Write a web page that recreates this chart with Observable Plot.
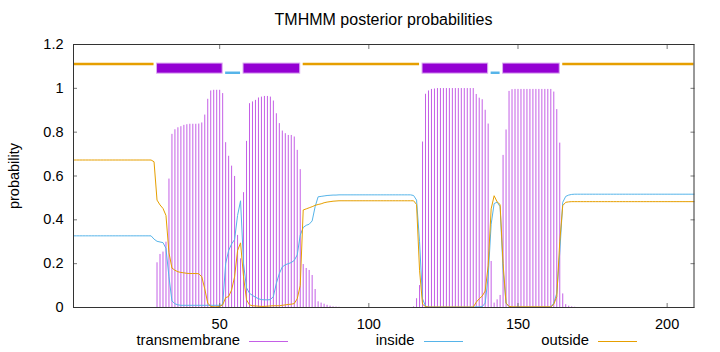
<!DOCTYPE html>
<html>
<head>
<meta charset="utf-8">
<script src="https://cdn.jsdelivr.net/npm/d3@7"></script>
<script src="https://cdn.jsdelivr.net/npm/@observablehq/plot@0.6"></script>
<style>
  body { margin: 0; background: #fff; }
  #wrap { position: relative; width: 720px; height: 352px; overflow: hidden;
          font-family: "Liberation Sans", Arial, sans-serif; color: #000; }
  #title { position: absolute; top: 12px; left: 383.5px; transform: translateX(-50%);
           white-space: nowrap; font-size: 16px; line-height: 1; }
  #ylabel { position: absolute; left: 14px; top: 175.5px; transform: translate(-50%, -50%) rotate(-90deg);
            white-space: nowrap; font-size: 14.5px; line-height: 1; }
  .leg-text { position: absolute; top: 333px; font-size: 14.8px; line-height: 1; white-space: nowrap; text-align: right; }
  .leg-line { position: absolute; top: 341px; height: 0; border-top-width: 1px; border-top-style: solid; }
</style>
</head>
<body>
<div id="wrap">
  <div id="chart"></div>
  <div id="title"></div>
  <div id="ylabel"></div>
</div>
<script>
// ---- data ----
const titleText = "TMHMM posterior probabilities";
const yLabelText = "probability";
const seriesNames = ["transmembrane", "inside", "outside"];
const seriesColors = ["#c45fe6", "#56b4e9", "#e69f00"];

const xTicks = [50, 100, 150, 200];
const yTicks = [0, 0.2, 0.4, 0.6, 0.8, 1, 1.2];
const yTickLabels = ["0", "0.2", "0.4", "0.6", "0.8", "1", "1.2"];

const seqLength = 209;

// posterior probability per residue (1..209)
const tmProb = [
  0,0,0,0,0,0,0,0,0,0, 0,0,0,0,0,0,0,0,0,0, 0,0,0,0,0,0,0,0,
  0.204,0.242,0.253,0.298,0.586,0.790,0.811,0.820,0.825,0.831,0.834,0.836,0.836,0.836,0.837,0.842,
  0.878,0.950,0.988,0.991,0.991,0.991,0.976,0.752,0.690,0.645,0.598,0.329,0.222,0.524,0.758,0.930,
  0.938,0.945,0.956,0.960,0.963,0.963,0.960,0.942,0.884,0.839,0.805,0.793,0.785,0.785,0.778,0.717,
  0.629,0.196,0.178,0.169,0.146,0.082,0.026,0.020,0.015,0.010,0.006,0.003,0.002,0.001,
  0,0,0,0,0,0,0,0,0,0, 0,0,0,0,0,0,0,0,0,0, 0,0,0,0,
  0.003,0.040,0.100,0.755,0.973,0.988,0.995,0.997,
  0.999,0.999,0.999,0.999,0.999,0.999,0.999,0.999,0.999,0.999,0.999,0.999,0.999,
  0.972,0.955,0.948,0.900,0.837,0.210,0.020,0.035,0.055,0.694,0.810,0.986,0.994,
  0.995,0.995,0.995,0.995,0.995,0.995,0.995,0.995,0.995,0.995,0.995,0.995,0.995,
  0.983,0.903,0.750,0.062,0.013,0.006,0.003,0.001,
  0,0,0,0,0,0,0,0,0,0, 0,0,0,0,0,0,0,0,0,0, 0,0,0,0,0,0,0,0,0,0, 0,0,0,0,0,0,0,0,0,0
];

const insideProb = [
  0.327,0.327,0.327,0.327,0.327,0.327,0.327,0.327,0.327,0.327,
  0.327,0.327,0.327,0.327,0.327,0.327,0.327,0.327,0.327,0.327,
  0.327,0.327,0.327,0.327,0.327,0.327,0.327,
  0.312,0.302,0.299,0.296,0.270,0.140,0.030,0.017,0.012,
  0.010,0.010,0.010,0.010,0.010,0.010,0.010,0.010,0.010,0.010,0.010,0.010,0.010,0.010,
  0.012,0.200,0.260,0.290,0.310,0.420,0.487,0.200,0.090,0.065,
  0.055,0.047,0.040,0.036,0.035,0.035,0.036,0.050,0.110,0.155,
  0.185,0.195,0.200,0.205,0.215,0.240,0.330,0.365,0.375,0.380,
  0.395,0.460,0.505,0.507,0.509,0.511,0.512,0.513,0.513,
  0.514,0.514,0.514,0.514,0.514,0.514,0.514,0.514,0.514,0.514,
  0.514,0.514,0.514,0.514,0.514,0.514,0.514,0.514,0.514,0.514,
  0.514,0.514,0.514,0.514,0.514,
  0.511,0.490,0.300,0.040,0.006,
  0.002,0.002,0.002,0.002,0.002,0.002,0.002,0.002,0.002,0.002,0.002,0.002,0.002,0.002,0.002,0.002,
  0.003,0.003,0.004,0.020,0.140,0.380,0.474,0.481,0.460,0.170,0.020,0.004,
  0.002,0.002,0.002,0.002,0.002,0.002,0.002,0.002,0.002,0.002,0.002,0.002,0.002,0.002,
  0.020,0.065,0.250,0.480,0.507,0.513,0.516,
  0.517,0.517,0.517,0.517,0.517,0.517,0.517,0.517,0.517,0.517,
  0.517,0.517,0.517,0.517,0.517,0.517,0.517,0.517,0.517,0.517,
  0.517,0.517,0.517,0.517,0.517,0.517,0.517,0.517,0.517,0.517,
  0.517,0.517,0.517,0.517,0.517,0.517,0.517,0.517,0.517,0.517,0.517
];

const outsideProb = [
  0.673,0.673,0.673,0.673,0.673,0.673,0.673,0.673,0.673,0.673,
  0.673,0.673,0.673,0.673,0.673,0.673,0.673,0.673,0.673,0.673,
  0.673,0.673,0.673,0.673,0.673,0.673,0.673,
  0.665,0.490,0.468,0.452,0.420,0.250,0.180,0.170,0.163,0.160,0.158,0.156,0.155,0.155,0.155,0.154,
  0.140,0.085,0.020,0.005,0.003,0.003,0.005,0.012,0.045,0.050,0.080,0.140,0.260,0.295,0.140,0.035,
  0.012,0.008,0.007,0.006,0.005,0.005,0.006,0.007,0.008,0.008,0.008,0.010,0.012,0.014,0.015,0.018,
  0.040,0.100,0.445,0.450,0.455,0.460,0.466,0.470,0.473,0.478,0.481,0.483,0.485,0.486,
  0.487,0.487,0.487,0.487,0.487,0.487,0.487,0.487,0.487,0.487,
  0.487,0.487,0.487,0.487,0.487,0.487,0.487,0.487,0.487,0.487,
  0.487,0.487,0.487,0.487,0.487,0.487,
  0.470,0.170,0.015,0.004,
  0.002,0.002,0.002,0.002,0.002,0.002,0.002,0.002,0.002,0.002,0.002,0.002,0.002,0.002,0.002,0.002,
  0.024,0.040,0.052,0.075,0.190,0.450,0.510,0.482,0.470,0.200,0.020,0.005,
  0.003,0.003,0.003,0.003,0.003,0.003,0.003,0.003,0.003,0.003,0.003,0.003,0.003,0.003,
  0.015,0.050,0.300,0.465,0.480,0.482,0.483,
  0.483,0.483,0.483,0.483,0.483,0.483,0.483,0.483,0.483,0.483,
  0.483,0.483,0.483,0.483,0.483,0.483,0.483,0.483,0.483,0.483,
  0.483,0.483,0.483,0.483,0.483,0.483,0.483,0.483,0.483,0.483,
  0.483,0.483,0.483,0.483,0.483,0.483,0.483,0.483,0.483,0.483,0.483
];

// predicted topology (top track)
const segStart = [1, 29, 52, 58, 78, 118, 141, 145, 165];
const segEnd   = [28, 51, 57, 77, 117, 140, 144, 164, 209];
const segType  = ["outside", "TMhelix", "inside", "TMhelix", "outside", "TMhelix", "inside", "TMhelix", "outside"];

// ---- build ----
const residues = d3.range(1, seqLength + 1);
const data = residues.map((r, i) => ({r, tm: tmProb[i], inside: insideProb[i], outside: outsideProb[i]}));
const segs = segStart.map((s, i) => ({start: s, end: segEnd[i], type: segType[i]}));

const chart = Plot.plot({
  width: 720,
  height: 352,
  marginLeft: 73,
  marginRight: 26.5,
  marginTop: 44,
  marginBottom: 45,
  style: {fontFamily: '"Liberation Sans", Arial, sans-serif', fontSize: "14.5px", color: "#000", background: "#fff", overflow: "visible"},
  x: {domain: [1, seqLength]},
  y: {domain: [0, 1.2]},
  marks: [
    Plot.ruleX(data, {x: "r", y1: 0, y2: "tm", stroke: seriesColors[0], strokeWidth: 1}),
    Plot.line(data, {x: "r", y: "inside", stroke: seriesColors[1], strokeWidth: 1}),
    Plot.line(data, {x: "r", y: "outside", stroke: seriesColors[2], strokeWidth: 1}),
    Plot.ruleY(segs.filter(d => d.type === "outside"), {x1: "start", x2: "end", y: 1.111, stroke: "#e69f00", strokeWidth: 2.5}),
    Plot.ruleY(segs.filter(d => d.type === "inside"), {x1: "start", x2: "end", y: 1.071, stroke: "#56b4e9", strokeWidth: 2.5}),
    Plot.rect(segs.filter(d => d.type === "TMhelix"), {x1: "start", x2: "end", y1: 1.067, y2: 1.113, fill: "#9400d3", stroke: "#dcaaf2", strokeWidth: 1}),
    Plot.axisX({ticks: xTicks, tickSize: 0, tickPadding: 11, label: null}),
    Plot.axisX({ticks: xTicks, anchor: "bottom", tickSize: -4, tickFormat: () => "", label: null, stroke: "#777"}),
    Plot.axisX({ticks: xTicks, anchor: "top", tickSize: -4, tickFormat: () => "", label: null, stroke: "#777"}),
    Plot.axisY({ticks: yTicks, tickSize: 0, tickPadding: 10, tickFormat: d => yTickLabels[yTicks.indexOf(d)], label: null}),
    Plot.axisY({ticks: yTicks, anchor: "left", tickSize: -4, tickFormat: () => "", label: null, stroke: "#777"}),
    Plot.axisY({ticks: yTicks, anchor: "right", tickSize: -4, tickFormat: () => "", label: null, stroke: "#777"}),
    Plot.frame({stroke: "#333"})
  ]
});
document.getElementById("chart").appendChild(chart);
document.getElementById("title").textContent = titleText;
document.getElementById("ylabel").textContent = yLabelText;

// legend
const wrap = document.getElementById("wrap");
const legendRight = [240, 414.5, 589];
seriesNames.forEach((name, i) => {
  const t = document.createElement("div");
  t.className = "leg-text";
  t.textContent = name;
  t.style.right = (720 - legendRight[i]) + "px";
  wrap.appendChild(t);
  const l = document.createElement("div");
  l.className = "leg-line";
  l.style.left = (legendRight[i] + 9) + "px";
  l.style.width = "39px";
  l.style.borderTopColor = seriesColors[i];
  wrap.appendChild(l);
});
</script>
</body>
</html>
